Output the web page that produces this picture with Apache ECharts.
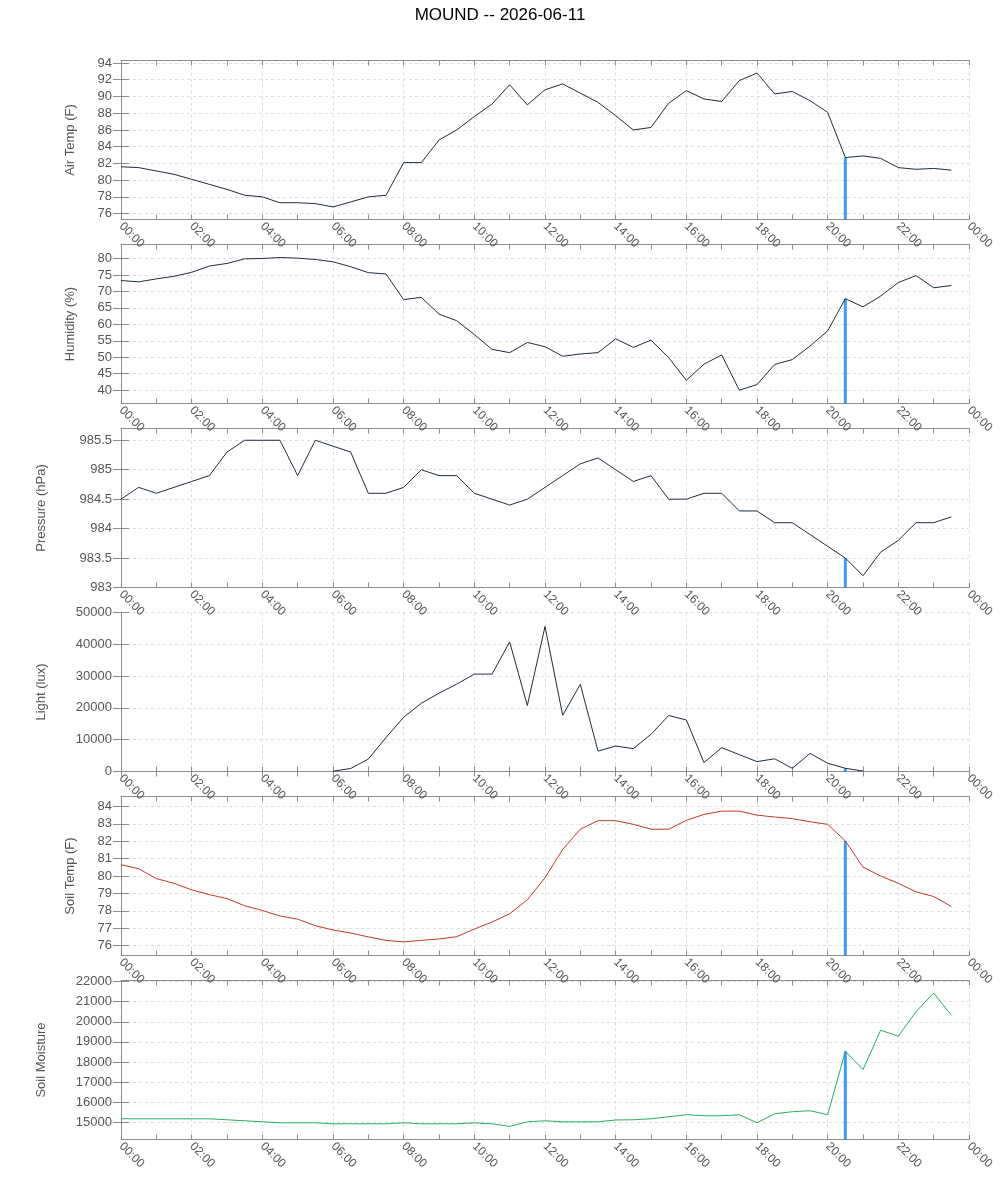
<!DOCTYPE html>
<html>
<head>
<meta charset="utf-8">
<script src="https://cdn.jsdelivr.net/npm/echarts@6/dist/echarts.min.js"></script>
<style>
  html, body { margin: 0; padding: 0; background: #fff; }
  #chart { width: 1000px; height: 1200px; }
</style>
</head>
<body>
<div id="chart"></div>
<script>
// sample times (every 30 min)
var times = ['00:00','00:30','01:00','01:30','02:00','02:30','03:00','03:30',
             '04:00','04:30','05:00','05:30','06:00','06:30','07:00','07:30',
             '08:00','08:30','09:00','09:30','10:00','10:30','11:00','11:30',
             '12:00','12:30','13:00','13:30','14:00','14:30','15:00','15:30',
             '16:00','16:30','17:00','17:30','18:00','18:30','19:00','19:30',
             '20:00','20:30','21:00','21:30','22:00','22:30','23:00','23:30'];

var airTemp = [81.6,81.5,81.1,80.7,80.1,79.5,78.9,78.2,78.0,77.3,77.3,77.2,
               76.8,77.4,78.0,78.2,82.1,82.1,84.8,86.0,87.6,89.1,91.4,89.0,
               90.8,91.5,90.4,89.3,87.7,86.0,86.3,89.2,90.7,89.7,89.4,91.9,
               92.8,90.3,90.6,89.5,88.1,82.7,82.9,82.6,81.5,81.3,81.4,81.2];

var humidity = [73.3,72.9,73.8,74.6,75.8,77.7,78.5,79.9,80.0,80.3,80.1,79.7,
                79.0,77.5,75.7,75.3,67.5,68.2,63.1,61.1,56.9,52.4,51.4,54.5,
                53.2,50.3,51.0,51.4,55.6,53.0,55.2,49.9,43.0,47.9,50.7,40.0,
                41.7,47.8,49.3,53.4,58.0,67.8,65.3,68.6,72.7,74.8,71.1,71.8];

var pressure = [984.5,984.7,984.6,984.7,984.8,984.9,985.3,985.5,985.5,985.5,984.9,985.5,
                985.4,985.3,984.6,984.6,984.7,985.0,984.9,984.9,984.6,984.5,984.4,984.5,
                984.7,984.9,985.1,985.2,985.0,984.8,984.9,984.5,984.5,984.6,984.6,984.3,
                984.3,984.1,984.1,983.9,983.7,983.5,983.2,983.6,983.8,984.1,984.1,984.2];

// no visible trace at night
var light = [null,null,null,null,null,null,null,null,null,null,null,null,
             100,950,3900,10700,17050,21470,24630,27470,30630,30630,40740,20740,
             45600,17700,27400,6400,8000,7200,11700,17600,16200,2800,7500,5300,
             3100,4000,1000,5700,2600,1000,150,null,null,null,null,null];

var soilTemp = [80.65,80.42,79.85,79.58,79.20,78.93,78.70,78.29,78.02,77.70,77.52,77.14,
                76.90,76.72,76.50,76.30,76.21,76.30,76.38,76.51,76.95,77.35,77.83,78.63,
                79.90,81.52,82.69,83.18,83.18,82.97,82.69,82.69,83.20,83.54,83.73,83.73,
                83.50,83.39,83.30,83.12,82.97,82.02,80.51,80.00,79.58,79.09,78.82,78.25];

var soilMoisture = [15180,15180,15180,15180,15180,15180,15130,15080,15030,14980,14980,14980,
                    14930,14930,14930,14930,14980,14930,14930,14930,14980,14930,14800,15030,
                    15080,15030,15030,15030,15120,15130,15180,15280,15380,15330,15330,15380,
                    14980,15430,15530,15580,15380,18530,17630,19580,19280,20500,21430,20330];

// y tick labels per panel
var airTempTicks = [76,78,80,82,84,86,88,90,92,94];
var humidityTicks = [40,45,50,55,60,65,70,75,80];
var pressureTicks = [983,983.5,984,984.5,985,985.5];
var lightTicks = [0,10000,20000,30000,40000,50000];
var soilTempTicks = [76,77,78,79,80,81,82,83,84];
var soilMoistureTicks = [15000,16000,17000,18000,19000,20000,21000,22000];

var markerTime = '20:30';

function toHours(t) {
    var p = t.split(':');
    return +p[0] + (+p[1]) / 60;
}
function pad(n) { return (n < 10 ? '0' : '') + n; }

var panels = [
    {name: 'Air Temp (F)',   data: airTemp,      ticks: airTempTicks,      color: '#1f2d3d', min: 75.3,  max: 94.3,  top: 60.5,  gap: 44},
    {name: 'Humidity (%)',   data: humidity,     ticks: humidityTicks,     color: '#1f2d3d', min: 35.95, max: 84.25, top: 244.5, gap: 44},
    {name: 'Pressure (hPa)', data: pressure,     ticks: pressureTicks,     color: '#1f2d3d', min: 983,   max: 985.7, top: 428.5, gap: 73},
    {name: 'Light (lux)',    data: light,        ticks: lightTicks,        color: '#1f2d3d', min: 0,     max: 50000, top: 612.5, gap: 73},
    {name: 'Soil Temp (F)',  data: soilTemp,     ticks: soilTempTicks,     color: '#c0392b', min: 75.43, max: 84.57, top: 796.5, gap: 44},
    {name: 'Soil Moisture',  data: soilMoisture, ticks: soilMoistureTicks, color: '#27ae60', min: 14150, max: 22050, top: 980.5, gap: 73}
];

var axisColor = '#8c8c8c';
var labelColor = '#555';
var font = 'Liberation Sans, Arial, sans-serif';
var markerIdx = times.indexOf(markerTime);

var grid = [], xAxis = [], yAxis = [], series = [];

panels.forEach(function (p, i) {
    grid.push({left: 121, width: 848, top: p.top, height: 159});

    // bottom x axis with labels
    xAxis.push({
        type: 'value', gridIndex: i, min: 0, max: 24, interval: 2, position: 'bottom',
        axisLine: {lineStyle: {color: axisColor}},
        axisTick: {inside: true, length: 5, lineStyle: {color: axisColor}},
        minorTick: {show: true, splitNumber: 2, length: 5, lineStyle: {color: axisColor}},
        splitLine: {show: true, lineStyle: {color: '#dddddd', type: [3, 3]}},
        axisLabel: {
            rotate: -45, margin: 5, color: labelColor, fontSize: 12, fontFamily: font,
            formatter: function (v) { return pad(Math.round(v) % 24) + ':00'; }
        }
    });
    // mirrored top x axis
    xAxis.push({
        type: 'value', gridIndex: i, min: 0, max: 24, interval: 2, position: 'top',
        axisLine: {lineStyle: {color: axisColor}},
        axisTick: {inside: true, length: 5, lineStyle: {color: axisColor}},
        minorTick: {show: true, splitNumber: 2, length: 5, lineStyle: {color: axisColor}},
        splitLine: {show: false},
        axisLabel: {show: false}
    });

    yAxis.push({
        type: 'value', gridIndex: i, min: p.min, max: p.max, position: 'left',
        name: p.name, nameLocation: 'middle', nameGap: p.gap,
        nameTextStyle: {color: labelColor, fontSize: 13, fontFamily: font},
        axisLine: {show: true, lineStyle: {color: axisColor}},
        axisTick: {show: true, inside: true, length: 8, customValues: p.ticks, lineStyle: {color: axisColor}},
        splitLine: {show: true, lineStyle: {color: '#dddddd', type: [3, 3]}},
        axisLabel: {
            color: labelColor, fontSize: 13, fontFamily: font, margin: 9,
            customValues: p.ticks,
            formatter: function (v) { return String(v); }
        }
    });
    yAxis.push({
        type: 'value', gridIndex: i, min: p.min, max: p.max, position: 'right',
        axisLine: {show: true, lineStyle: {color: axisColor}},
        axisTick: {show: true, inside: true, length: 8, customValues: p.ticks, lineStyle: {color: axisColor}},
        splitLine: {show: false},
        axisLabel: {show: false}
    });

    var pts = times.map(function (t, k) { return [toHours(t), p.data[k]]; });
    series.push({
        type: 'line', xAxisIndex: i * 2, yAxisIndex: i * 2,
        data: pts, showSymbol: false, animation: false,
        lineStyle: {color: p.color, width: 1}, itemStyle: {color: p.color}
    });
    series.push({
        type: 'bar', xAxisIndex: i * 2, yAxisIndex: i * 2,
        data: [[toHours(markerTime), p.data[markerIdx]]],
        barWidth: 3, animation: false,
        itemStyle: {color: '#3d9af5'}
    });
});

var option = {
    backgroundColor: '#fff',
    animation: false,
    title: {
        text: 'MOUND -- 2026-06-11', left: 'center', top: 2,
        textStyle: {color: '#000', fontSize: 17, fontWeight: 'normal', fontFamily: font}
    },
    grid: grid,
    xAxis: xAxis,
    yAxis: yAxis,
    series: series
};

var myChart = echarts.init(document.getElementById('chart'));
myChart.setOption(option);
</script>
</body>
</html>
